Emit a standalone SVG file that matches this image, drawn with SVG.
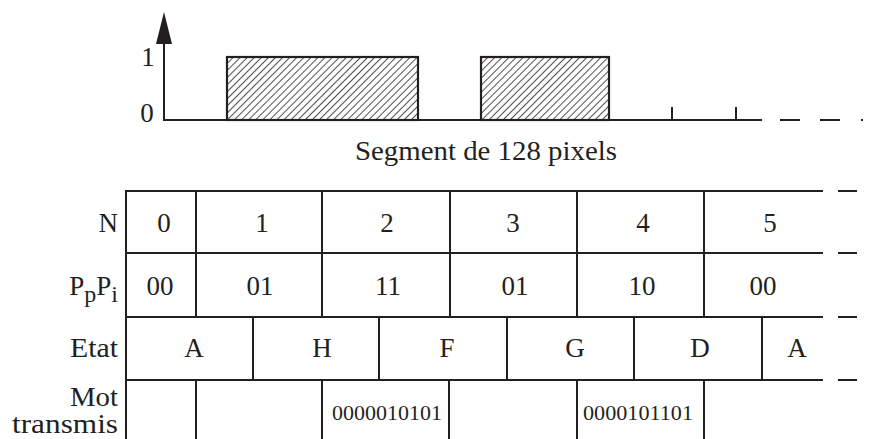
<svg xmlns="http://www.w3.org/2000/svg" width="877" height="439" viewBox="0 0 877 439">
<defs>
<pattern id="hatch" patternUnits="userSpaceOnUse" width="5" height="5" patternTransform="rotate(45)">
<line x1="0" y1="0" x2="0" y2="5" stroke="#231f20" stroke-width="1.6"/>
</pattern>
<style>
.ln{stroke:#231f20;stroke-width:2;fill:none}
.bar{stroke:#231f20;stroke-width:2.2;fill:url(#hatch)}
.t{font-family:"Liberation Serif","DejaVu Serif",serif;font-size:27px;fill:#231f20}
.c{text-anchor:middle}
.r{text-anchor:end}
.s{font-family:"Liberation Serif","DejaVu Serif",serif;font-size:22px;fill:#231f20;text-anchor:middle}
</style>
</defs>
<rect width="877" height="439" fill="#fff"/>
<g id="chart">
<rect x="227" y="57" width="191" height="63" class="bar"/>
<rect x="481" y="57" width="128" height="63" class="bar"/>
<line x1="164" y1="121" x2="164" y2="40" class="ln"/>
<polygon points="164,12 156,44 172,44" fill="#231f20"/>
<line x1="163" y1="120" x2="762" y2="120" class="ln"/>
<line x1="672" y1="107" x2="672" y2="120" class="ln"/>
<line x1="736" y1="107" x2="736" y2="120" class="ln"/>
<line x1="780" y1="120" x2="800" y2="120" class="ln"/>
<line x1="820" y1="120" x2="840" y2="120" class="ln"/>
<line x1="861" y1="120" x2="863" y2="120" class="ln"/>
<text x="148" y="66" class="t c">1</text>
<text x="147" y="122" class="t c">0</text>
<text x="486" y="160" class="t c" textLength="262" lengthAdjust="spacingAndGlyphs">Segment de 128 pixels</text>
</g>
<g id="table-lines">
<line x1="126" y1="191" x2="126" y2="439" class="ln"/>
<line x1="125" y1="191" x2="823" y2="191" class="ln"/>
<line x1="125" y1="253" x2="823" y2="253" class="ln"/>
<line x1="125" y1="317" x2="823" y2="317" class="ln"/>
<line x1="125" y1="380" x2="823" y2="380" class="ln"/>
<line x1="838" y1="191" x2="857" y2="191" class="ln"/>
<line x1="838" y1="253" x2="857" y2="253" class="ln"/>
<line x1="838" y1="317" x2="857" y2="317" class="ln"/>
<line x1="838" y1="380" x2="857" y2="380" class="ln"/>
<path d="M196,191V317M322,191V317M450,191V317M577,191V317M704,191V317" class="ln"/>
<path d="M253,317V380M379,317V380M507,317V380M634,317V380M762,317V380" class="ln"/>
<path d="M196,380V439M322,380V439M449,380V439M577,380V439M704,380V439" class="ln"/>
</g>
<g id="labels">
<text x="118" y="232" class="t r">N</text>
<text x="118" y="295" class="t r">P<tspan dy="7" font-size="24">p</tspan><tspan dy="-7">P</tspan><tspan dy="7" font-size="24">i</tspan></text>
<text x="118" y="357" class="t r" textLength="48" lengthAdjust="spacingAndGlyphs">Etat</text>
<text x="118" y="406" class="t r" textLength="48" lengthAdjust="spacingAndGlyphs">Mot</text>
<text x="118" y="433" class="t r" textLength="106" lengthAdjust="spacingAndGlyphs">transmis</text>
</g>
<g id="row-n">
<text x="164" y="232" class="t c">0</text>
<text x="262" y="232" class="t c">1</text>
<text x="387" y="232" class="t c">2</text>
<text x="513" y="232" class="t c">3</text>
<text x="643" y="232" class="t c">4</text>
<text x="770" y="232" class="t c">5</text>
</g>
<g id="row-p">
<text x="160" y="295" class="t c">00</text>
<text x="260" y="295" class="t c">01</text>
<text x="388" y="295" class="t c">11</text>
<text x="515" y="295" class="t c">01</text>
<text x="642" y="295" class="t c">10</text>
<text x="763" y="295" class="t c">00</text>
</g>
<g id="row-etat">
<text x="194" y="357" class="t c">A</text>
<text x="322" y="357" class="t c">H</text>
<text x="447" y="357" class="t c">F</text>
<text x="575" y="357" class="t c">G</text>
<text x="700" y="357" class="t c">D</text>
<text x="797" y="357" class="t c">A</text>
</g>
<g id="row-mot">
<text x="387" y="420" class="s" textLength="110" lengthAdjust="spacingAndGlyphs">0000010101</text>
<text x="638" y="420" class="s" textLength="110" lengthAdjust="spacingAndGlyphs">0000101101</text>
</g>
</svg>
